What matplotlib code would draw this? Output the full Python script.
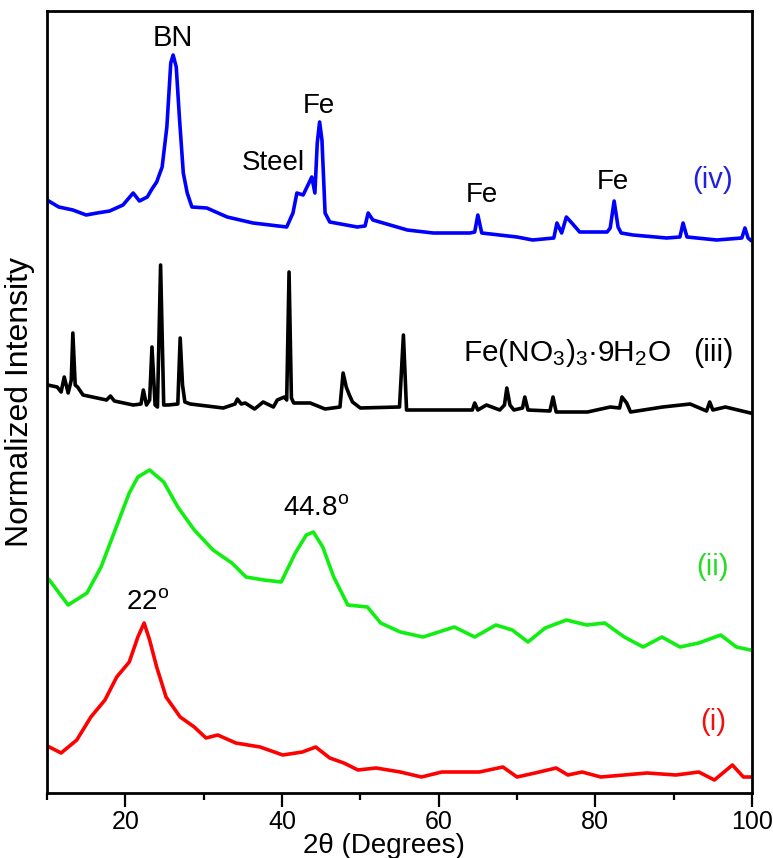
import matplotlib
matplotlib.use("Agg")
import matplotlib.pyplot as plt
from matplotlib.ticker import MultipleLocator

plt.rcParams['font.family'] = ['Liberation Sans Narrow', 'Liberation Sans', 'DejaVu Sans']
plt.rcParams['mathtext.fontset'] = 'custom'
plt.rcParams['mathtext.rm'] = 'Liberation Sans'
plt.rcParams['mathtext.it'] = 'Liberation Sans'

# ---- data (2theta in degrees, stacked normalized intensity in a.u.) ----
x_iv = [10, 11.5, 13.3, 15, 16.4, 18, 19.7, 21, 21.8, 22.8, 23.4, 24, 24.7, 25.3, 25.8, 26.1, 26.5,
        26.9, 27.4, 27.9, 28.5, 30.4, 33, 36.3, 40.6, 41.4, 41.9, 42.7, 43.5, 43.8, 44.2, 44.5,
        44.8, 45.1, 45.5, 46.1, 49.6, 50.6, 51, 51.6, 56, 59.3, 64, 64.6, 65, 65.5, 70, 72, 74.7,
        75.1, 75.7, 76.3, 77, 78, 81.5, 81.9, 82.4, 82.9, 83.3, 84.8, 89.1, 90.8, 91.2, 91.7,
        95.5, 98.7, 99.1, 99.5, 99.8]
y_iv = [593, 586, 583, 578, 580, 582, 588, 600, 592, 596, 604, 611, 626, 666, 730, 738, 726,
        676, 620, 600, 586, 585, 576, 570, 566, 580, 600, 598, 611, 616, 600, 650,
        671, 653, 580, 571, 566, 567, 580, 573, 563, 560, 560, 561, 578, 560, 556, 553, 555,
        570, 560, 576, 570, 561, 561, 565, 592, 566, 560, 558, 555, 556, 570, 556,
        553, 555, 565, 555, 553]

x_iii = [10.1, 11.3, 11.8, 12.2, 12.7, 13.1, 13.3, 13.6, 13.9, 14.6, 17.6, 18.1, 18.6, 21, 22.0,
         22.3, 22.7, 23.1, 23.4, 23.8, 24.1, 24.5, 24.9, 25.5, 26.7, 27.0, 27.3, 27.6, 28.3, 32.5,
         34.0, 34.3, 34.8, 35.3, 36.5, 37.6, 38.9, 39.4, 40.3, 40.6, 40.9, 41.2, 41.5, 43.6, 45.5,
         47.4, 47.8, 48.2, 48.6, 49.0, 50, 55.0, 55.5, 55.9, 60.2, 64.3, 64.6, 65.0, 66.1, 67.8,
         68.4, 68.7, 69.1, 69.6, 70.7, 71, 71.4, 74.2, 74.6, 75, 79, 81.9, 83.1, 83.4, 84, 84.5,
         88.6, 92.1, 94.2, 94.6, 95, 96.6, 99.8]
y_iii = [408, 406, 401, 416, 400, 413, 460, 408, 406, 398, 393, 397, 392, 388, 389,
         403, 388, 393, 446, 388, 386, 528, 388, 388, 389, 455, 408, 391, 389, 385,
         389, 394, 389, 390, 384, 391, 386, 393, 396, 393, 521, 395, 390, 390, 384,
         386, 420, 406, 398, 391, 385, 386, 458, 383, 383, 383, 390, 383, 388, 383,
         388, 405, 388, 383, 385, 396, 383, 382, 396, 381, 381, 386, 385, 396, 390, 381,
         386, 389, 382, 391, 383, 386, 380]

x_ii = [10.3, 12.7, 15.1, 16.9, 18.7, 20.5, 21.6, 23.1, 24.9, 26.7, 28.8, 31.2, 33.6, 35.4,
        37.7, 39.9, 41.7, 43.1, 44.0, 45.2, 46.6, 48.4, 50.9, 52.6, 55.1, 58, 62, 64.6, 67.3,
        69.4, 71.4, 73.6, 76.3, 78.9, 81.2, 83.7, 86.1, 88.5, 90.8, 93.2, 96, 98, 99.8]
y_ii = [213, 188, 200, 226, 263, 300, 316, 323, 311, 286, 263, 243, 230, 216,
        213, 211, 240, 258, 261, 246, 216, 188, 186, 170, 161, 156, 166, 156, 168,
        163, 151, 165, 173, 168, 170, 156, 146, 156, 146, 150, 158, 146, 143]

x_i = [10.3, 11.8, 13.8, 15.6, 17.4, 18.9, 20.5, 21.6, 22.4, 23.1, 24, 25.2, 27, 28.8, 30.3,
       31.8, 34.1, 37.2, 40.1, 42.6, 44.3, 46.1, 47.9, 49.7, 52, 55.1, 57.8, 60.4, 65.2, 68.2,
       70, 72.3, 75, 76.5, 78.3, 80.7, 86.6, 90.3, 93.2, 95.2, 97.5, 98.9, 99.8]
y_i = [46, 40, 53, 76, 93, 116, 131, 156, 170, 153, 126, 96, 76, 66, 55,
       58, 50, 46, 38, 41, 46, 35, 30, 23, 25, 21, 16, 21, 21, 26,
       16, 20, 25, 18, 21, 16, 20, 18, 21, 13, 28, 16, 16]

series = [(x_i, y_i, '#ff0000'), (x_ii, y_ii, '#11ee11'),
          (x_iii, y_iii, '#000000'), (x_iv, y_iv, '#0000ff')]

fig = plt.figure(figsize=(7.73, 8.58), dpi=100)
ax = fig.add_axes([47/773, 65/858, 705/773, 782/858])

for xs, ys, c in series:
    ax.plot(xs, ys, color=c, lw=2.6, solid_joinstyle='round')

ax.set_xlim(10, 100)
ax.set_ylim(0, 782)
ax.xaxis.set_major_locator(MultipleLocator(20))
ax.xaxis.set_minor_locator(MultipleLocator(10))
ax.tick_params(axis='x', which='major', direction='out', length=10, width=1.6, labelsize=18, pad=2)
ax.tick_params(axis='x', which='minor', direction='out', length=5, width=1.6)
ax.set_yticks([])
for s in ax.spines.values():
    s.set_linewidth(2)

ax.set_xlabel('2θ (Degrees)', fontsize=20)
ax.xaxis.set_label_coords((384 - 47) / 705, -0.051)
ax.set_ylabel('Normalized Intensity', fontsize=23)
ax.yaxis.set_label_coords(-0.017, (793 - 402) / 782)

arial = ['Liberation Sans', 'DejaVu Sans']
ax.text(26.1, 755, 'BN', fontsize=21, family=arial, ha='center', va='center')
ax.text(44.7, 687, 'Fe', fontsize=20, family=arial, ha='center', va='center')
ax.text(38.9, 630, 'Steel', fontsize=20, family=arial, ha='center', va='center')
ax.text(65.5, 598, 'Fe', fontsize=20, family=arial, ha='center', va='center')
ax.text(82.3, 611, 'Fe', fontsize=20, family=arial, ha='center', va='center')
ax.text(95.0, 613, '(iv)', fontsize=21, family=arial, ha='center', va='center', color='#2020dd')
ax.text(76.4, 440, r'Fe(NO$_3$)$_3$·9H$_2$O', fontsize=21.5, family=arial, ha='center', va='center')
ax.text(95.0, 440, '(iii)', fontsize=22, family=arial, ha='center', va='center')
ax.text(44.3, 285, r'44.8$^{\rm o}$', fontsize=20, ha='center', va='center')
ax.text(95.0, 226, '(ii)', fontsize=21, ha='center', va='center', color='#22dd22')
ax.text(22.8, 191, r'22$^{\rm o}$', fontsize=20, ha='center', va='center')
ax.text(95.0, 71, '(i)', fontsize=21, ha='center', va='center', color='#ee1111')

fig.savefig('out.png', dpi=100)
